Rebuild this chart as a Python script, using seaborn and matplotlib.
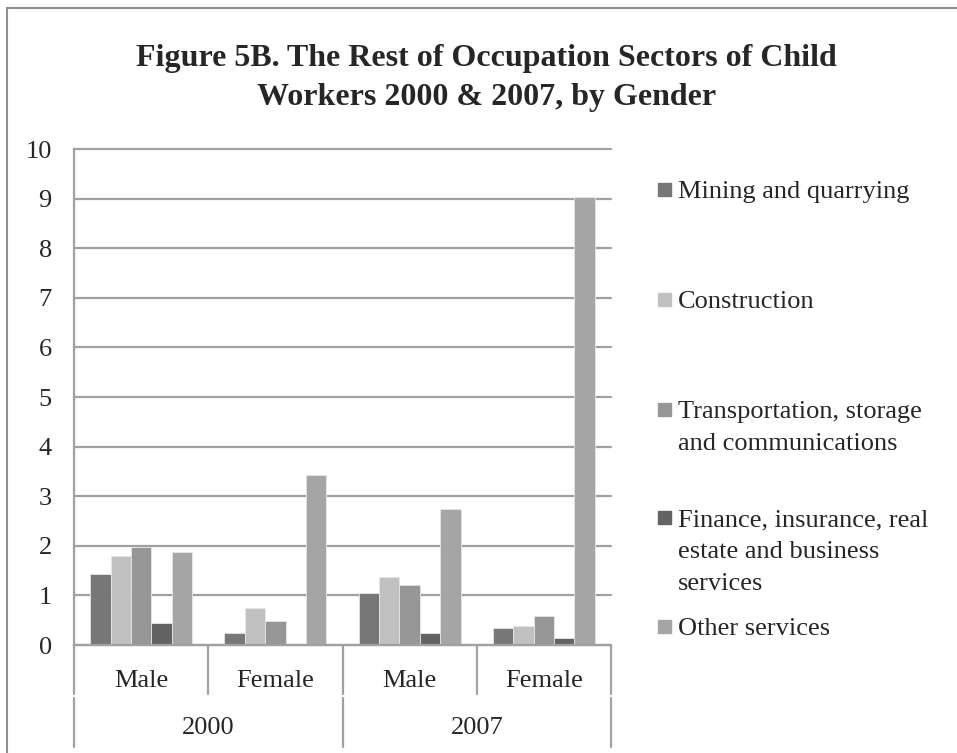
import pandas as pd
import matplotlib.pyplot as plt
from matplotlib.patches import Rectangle
from matplotlib.lines import Line2D
import seaborn as sns

# categories
anos = ["2000", "2007"]
generos = ["Male", "Female", "Male", "Female"]
chaves = ["2000 Male", "2000 Female", "2007 Male", "2007 Female"]

setores = [
    "Mining and quarrying",
    "Construction",
    "Transportation, storage\nand communications",
    "Finance, insurance, real\nestate and business\nservices",
    "Other services",
]

# values
mineracao = [1.43, 0.24, 1.04, 0.35]
construcao = [1.80, 0.74, 1.38, 0.38]
transporte = [1.98, 0.48, 1.21, 0.58]
financas = [0.45, 0.0, 0.24, 0.14]
outros = [1.88, 3.43, 2.75, 9.03]

cores = ["#777777", "#c0c0c0", "#969696", "#636363", "#a5a5a5"]

series = [mineracao, construcao, transporte, financas, outros]
linhas = []
for setor, valores in zip(setores, series):
    for chave, v in zip(chaves, valores):
        linhas.append({"chave": chave, "setor": setor, "valor": v})
df = pd.DataFrame(linhas)

sns.set_style("white")
plt.rcParams["font.family"] = ["Liberation Serif", "DejaVu Serif"]

CINZA = "#a0a0a0"
FONTE = 19

fig = plt.figure(figsize=(9.57, 7.53), dpi=100)
ax = fig.add_axes([74 / 957, 108 / 753, 537 / 957, 496 / 753])

sns.barplot(
    data=df, x="chave", y="valor", hue="setor",
    order=chaves, hue_order=setores, palette=cores,
    width=0.76, saturation=1, legend=False,
    edgecolor="#e6e6e6", linewidth=0.6, ax=ax,
)

ax.set_xlim(-0.5, 3.5)
ax.set_ylim(0, 10)
ax.set_yticks(range(0, 11))
ax.set_xticks([])
ax.set_xlabel("")
ax.set_ylabel("")

ax.yaxis.grid(True, color=CINZA, linewidth=1.6)
ax.set_axisbelow(True)
for g in ax.get_ygridlines():
    g.set_clip_on(False)

for lado in ["top", "right"]:
    ax.spines[lado].set_visible(False)
for lado in ["left", "bottom"]:
    ax.spines[lado].set_color(CINZA)
    ax.spines[lado].set_linewidth(1.6)

ax.tick_params(axis="y", direction="out", length=6, width=1.6,
               color=CINZA, labelsize=FONTE, pad=10)

# two-level category axis
tr = ax.get_xaxis_transform()
for x in [-0.5, 0.5, 1.5, 2.5, 3.5]:
    ax.plot([x, x], [0, -0.099], transform=tr, color=CINZA,
            linewidth=1.6, clip_on=False)
for x in [-0.5, 1.5, 3.5]:
    ax.plot([x, x], [-0.106, -0.205], transform=tr, color=CINZA,
            linewidth=1.6, clip_on=False)
for i, g in enumerate(generos):
    ax.text(i, -0.073, g, transform=tr, ha="center", va="center", fontsize=FONTE)
for i, a in enumerate(anos):
    ax.text(2 * i + 0.5, -0.168, a, transform=tr, ha="center", va="center",
            fontsize=FONTE)

# legend
topos = [183, 293, 403, 511, 620]
for setor, cor, topo in zip(setores, cores, topos):
    fig.add_artist(Rectangle((658 / 957, 1 - (topo + 13) / 753), 13 / 957, 13 / 753,
                             transform=fig.transFigure, color=cor))
    fig.text(678 / 957, 1 - (topo - 2) / 753, setor, ha="left", va="top",
             fontsize=FONTE, linespacing=1.6)

fig.text(486.5 / 957, 1 - 78 / 753,
         "Figure 5B. The Rest of Occupation Sectors of Child\nWorkers 2000 & 2007, by Gender",
         ha="center", va="center", fontsize=23, fontweight="bold", linespacing=1.45)

# chart frame
fig.add_artist(Line2D([7 / 957, 1], [1 - 8 / 753, 1 - 8 / 753],
                      transform=fig.transFigure, color="#909090", linewidth=1.5))
fig.add_artist(Line2D([7 / 957, 7 / 957], [0, 1 - 8 / 753],
                      transform=fig.transFigure, color="#909090", linewidth=1.5))

fig.savefig("out.png", dpi=100)
